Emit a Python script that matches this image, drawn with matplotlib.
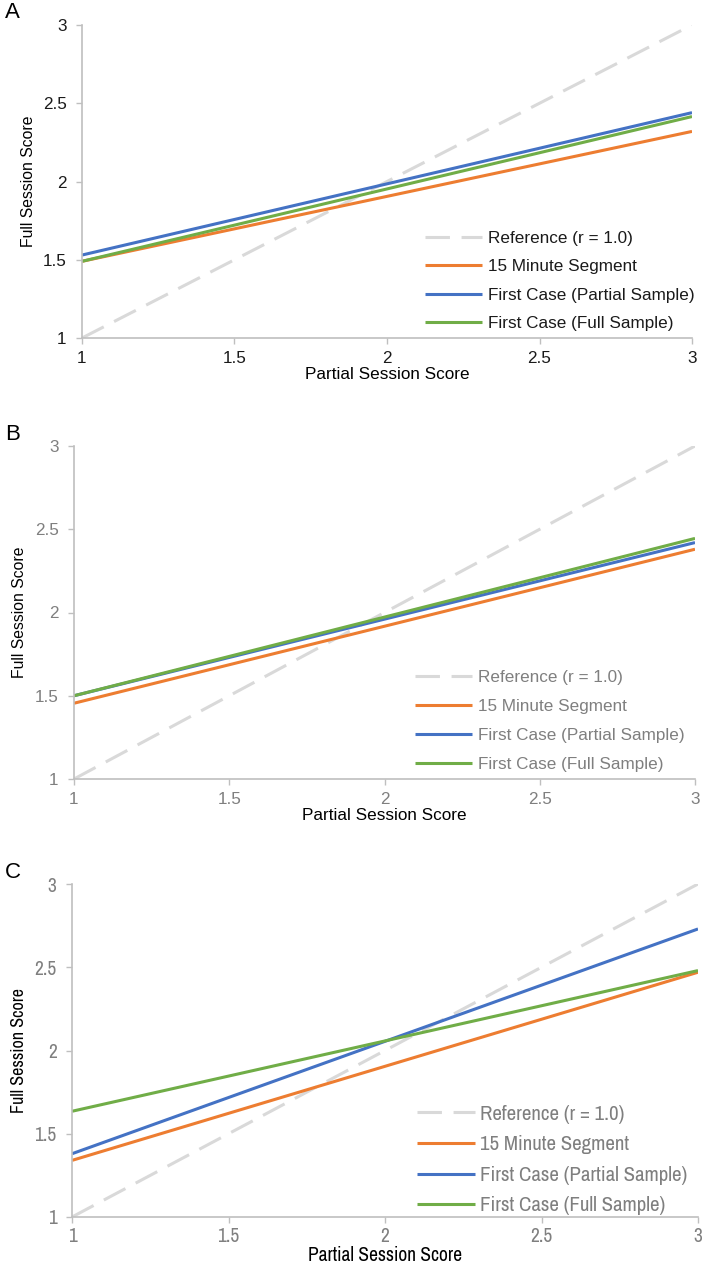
import matplotlib.pyplot as plt
from matplotlib import font_manager

# Regression lines: full session score at partial score 1 and 3
x_ends = [1, 3]
labels = ["Reference (r = 1.0)", "15 Minute Segment",
          "First Case (Partial Sample)", "First Case (Full Sample)"]

ref_line = [1.0, 3.0]
a_segment = [1.49, 2.32]
a_partial = [1.53, 2.44]
a_full = [1.49, 2.415]

b_segment = [1.455, 2.38]
b_partial = [1.50, 2.42]
b_full = [1.50, 2.445]

c_segment = [1.34, 2.47]
c_partial = [1.38, 2.73]
c_full = [1.635, 2.48]

ticks = [1, 1.5, 2, 2.5, 3]
tick_labels = ["1", "1.5", "2", "2.5", "3"]

W, H = 702, 1267
fig = plt.figure(figsize=(W / 100, H / 100), dpi=100)

# panel C uses a narrow face in the original; take one if it is installed
narrow = None
for f in font_manager.fontManager.ttflist:
    if "Narrow" in f.name or "Condensed" in f.name:
        narrow = f.name
        break
if narrow is None:
    narrow_font, narrow_size = "Liberation Sans", 12
else:
    narrow_font, narrow_size = narrow, 15


def px_axes(left, right, top, bottom):
    return fig.add_axes([left / W, 1 - bottom / H, (right - left) / W, (bottom - top) / H])


def panel(letter, box, segment, partial, full, tick_color, font, fsize,
          leg_x, leg_y, ylab_x, xlab_pad, xtick_pad=5, pitch=29, handle_px=57,
          gap_px=6, lsize=None):
    left, right, top, bottom = box
    lsize = lsize or fsize
    ax = px_axes(left, right, top, bottom)
    ref, = ax.plot(x_ends, ref_line, color="#d9d9d9", lw=2.2, dashes=(8, 3.8))
    l1, = ax.plot(x_ends, segment, color="#ed7d31", lw=2.2, solid_capstyle="butt")
    l2, = ax.plot(x_ends, partial, color="#4472c4", lw=2.2, solid_capstyle="butt")
    l3, = ax.plot(x_ends, full, color="#70ad47", lw=2.2, solid_capstyle="butt")
    ax.set_xlim(1, 3)
    ax.set_ylim(1, 3)
    ax.set_xticks(ticks)
    ax.set_xticklabels(tick_labels)
    ax.set_yticks(ticks)
    ax.set_yticklabels(tick_labels)
    for s in ["top", "right"]:
        ax.spines[s].set_visible(False)
    for s in ["left", "bottom"]:
        ax.spines[s].set_color("#bfbfbf")
        ax.spines[s].set_linewidth(1.2)
    ax.tick_params(direction="out", length=4, width=1, color="#bfbfbf",
                   labelcolor=tick_color, labelsize=lsize)
    ax.tick_params(axis="y", pad=7)
    ax.tick_params(axis="x", pad=xtick_pad)
    for t in ax.get_xticklabels() + ax.get_yticklabels():
        t.set_family(font)
    ax.set_xlabel("Partial Session Score", fontsize=lsize, family=font,
                  color="black", labelpad=xlab_pad)
    ax.set_ylabel("Full Session Score", fontsize=lsize - 1, family=font, color="black")
    ax.yaxis.set_label_coords((ylab_x - left) / (right - left), 0.5)
    em = fsize * 100 / 72
    leg = ax.legend([ref, l1, l2, l3], labels, loc="center left",
                    bbox_to_anchor=(leg_x / W, 1 - leg_y / H),
                    bbox_transform=fig.transFigure, frameon=False,
                    borderpad=0, borderaxespad=0, handlelength=handle_px / em,
                    handletextpad=gap_px / em, labelspacing=(pitch - 0.86 * em) / em,
                    prop={"family": font, "size": fsize})
    for t in leg.get_texts():
        t.set_color(tick_color)
    fig.text(5 / W, 1 - (top - 12) / H, letter, fontsize=16, family="Liberation Sans",
             va="center", ha="left")
    return ax


panel("A", (82, 692, 25, 338), a_segment, a_partial, a_full, "#1a1a1a",
      "Liberation Sans", 12.3, 425, 281, 36, 1, pitch=28.3)
panel("B", (74, 695, 446, 779), b_segment, b_partial, b_full, "#7f7f7f",
      "Liberation Sans", 12.3, 415, 721, 27, 1, pitch=29)
panel("C", (72, 698, 884, 1217), c_segment, c_partial, c_full, "#7f7f7f",
      narrow_font, narrow_size, 417, 1160, 27, 0, xtick_pad=3,
      pitch=29.5, handle_px=58, gap_px=5, lsize=14)

fig.savefig("out.png", dpi=100)
